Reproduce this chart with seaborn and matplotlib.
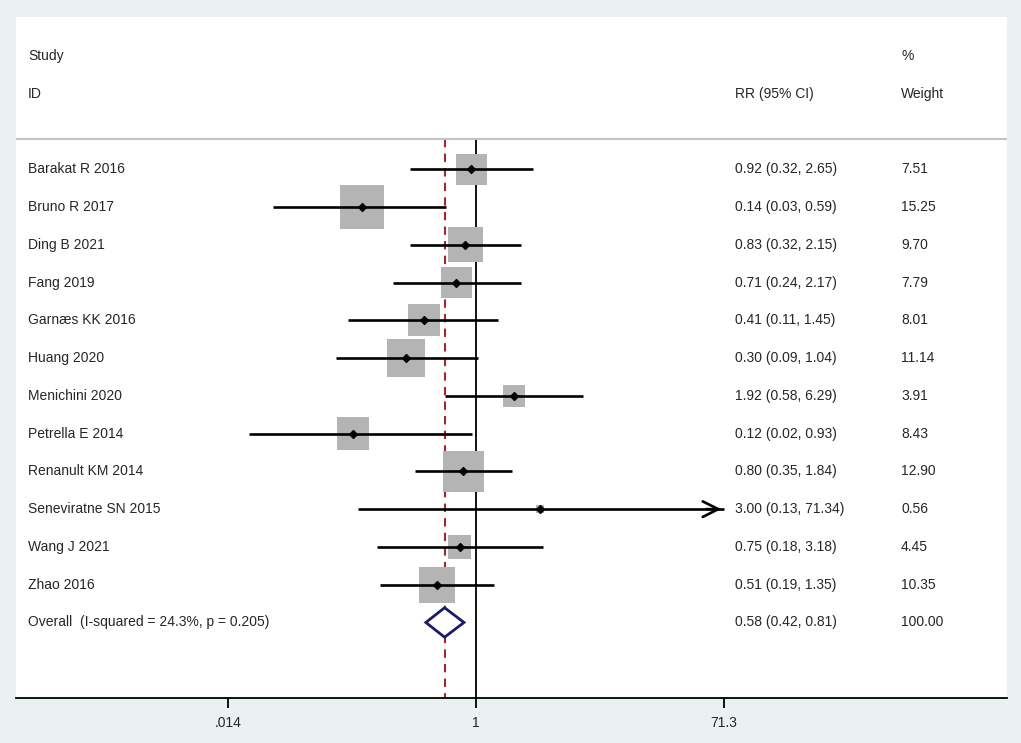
import numpy as np
import pandas as pd
import matplotlib
matplotlib.use("Agg")
import matplotlib.pyplot as plt
import matplotlib.transforms as mtransforms
from matplotlib.patches import Polygon
import seaborn as sns

studies = ["Barakat R 2016", "Bruno R 2017", "Ding B 2021", "Fang 2019",
           "Garnæs KK 2016", "Huang 2020", "Menichini 2020", "Petrella E 2014",
           "Renanult KM 2014", "Seneviratne SN 2015", "Wang J 2021", "Zhao 2016"]
rr = [0.92, 0.14, 0.83, 0.71, 0.41, 0.30, 1.92, 0.12, 0.80, 3.00, 0.75, 0.51]
lo = [0.32, 0.03, 0.32, 0.24, 0.11, 0.09, 0.58, 0.02, 0.35, 0.13, 0.18, 0.19]
hi = [2.65, 0.59, 2.15, 2.17, 1.45, 1.04, 6.29, 0.93, 1.84, 71.34, 3.18, 1.35]
weight = [7.51, 15.25, 9.70, 7.79, 8.01, 11.14, 3.91, 8.43, 12.90, 0.56, 4.45, 10.35]

overall_label = "Overall  (I-squared = 24.3%, p = 0.205)"
overall_rr, overall_lo, overall_hi, overall_w = 0.58, 0.42, 0.81, 100.00

tick_vals = [0.014, 1, 71.3]
tick_labels = [".014", "1", "71.3"]

df = pd.DataFrame({"study": studies, "rr": rr, "lo": lo, "hi": hi, "weight": weight})
df["row"] = np.arange(len(df))
overall_row = len(df)

sns.set_style("white")
plt.rcParams["font.family"] = ["Liberation Sans", "DejaVu Sans"]

fig = plt.figure(figsize=(10.21, 7.43), dpi=100)
fig.patch.set_facecolor("#e9f1f3")
ax = fig.add_axes([16 / 1021, 45 / 743, 991 / 1021, 681 / 743])
ax.set_facecolor("white")
ax.set_xscale("log")
ax.set_xlim(np.exp(-7.925), np.exp(9.14))
ax.set_ylim(14.0, -4.03)

# reference lines
ax.vlines(1, -0.8, 14.0, color="black", lw=1.3, zorder=1)
ax.vlines(overall_rr, -0.8, 14.0, color="#a3262e", lw=1.5, linestyles=(0, (4, 3)), zorder=1)
ax.axhline(-0.8, color="#c4c4c4", lw=1.5)

# weight boxes (area proportional to weight)
k = 66
sns.scatterplot(data=df, x="rr", y="row", size="weight",
                sizes=(k * df["weight"].min(), k * df["weight"].max()),
                marker="s", color="#b4b4b4", edgecolor="none", legend=False,
                ax=ax, zorder=2)

# confidence intervals
xmax_plot = tick_vals[-1]
for _, r in df.iterrows():
    if r["hi"] > xmax_plot:
        ax.hlines(r["row"], r["lo"], xmax_plot, color="black", lw=1.9, zorder=3)
        ax.annotate("", xy=(xmax_plot, r["row"]), xytext=(xmax_plot * 0.7, r["row"]),
                    arrowprops=dict(arrowstyle="->", color="black", lw=1.9,
                                    mutation_scale=28), zorder=3)
    else:
        ax.hlines(r["row"], r["lo"], r["hi"], color="black", lw=1.9, zorder=3)
ax.scatter(df["rr"], df["row"], marker="D", s=16, color="black", zorder=4)

# overall diamond
diamond = Polygon([(overall_lo, overall_row), (overall_rr, overall_row - 0.39),
                   (overall_hi, overall_row), (overall_rr, overall_row + 0.39)],
                  closed=True, facecolor="white", edgecolor="#1c1a6b", lw=2, zorder=5)
ax.add_patch(diamond)

# text columns
trans = mtransforms.blended_transform_factory(ax.transAxes, ax.transData)
fs = 10
x_study, x_rr, x_w = 12 / 991, 719 / 991, 885 / 991
ax.text(x_study, -3, "Study", transform=trans, fontsize=fs, va="center")
ax.text(x_study, -2, "ID", transform=trans, fontsize=fs, va="center")
ax.text(x_rr, -2, "RR (95% CI)", transform=trans, fontsize=fs, va="center")
ax.text(x_w, -3, "%", transform=trans, fontsize=fs, va="center")
ax.text(x_w, -2, "Weight", transform=trans, fontsize=fs, va="center")
for _, r in df.iterrows():
    ax.text(x_study, r["row"], r["study"], transform=trans, fontsize=fs, va="center")
    ax.text(x_rr, r["row"], f"{r['rr']:.2f} ({r['lo']:.2f}, {r['hi']:.2f})",
            transform=trans, fontsize=fs, va="center")
    ax.text(x_w, r["row"], f"{r['weight']:.2f}", transform=trans, fontsize=fs, va="center")
ax.text(x_study, overall_row, overall_label, transform=trans, fontsize=fs, va="center")
ax.text(x_rr, overall_row, f"{overall_rr:.2f} ({overall_lo:.2f}, {overall_hi:.2f})",
        transform=trans, fontsize=fs, va="center")
ax.text(x_w, overall_row, f"{overall_w:.2f}", transform=trans, fontsize=fs, va="center")

# axes styling
for side in ["top", "left", "right"]:
    ax.spines[side].set_visible(False)
ax.spines["bottom"].set_color("black")
ax.spines["bottom"].set_linewidth(1.3)
ax.set_xticks(tick_vals)
ax.set_xticklabels(tick_labels, fontsize=fs)
ax.xaxis.set_minor_locator(matplotlib.ticker.NullLocator())
ax.tick_params(axis="x", direction="out", length=7, width=1.3, color="black", bottom=True, pad=6)
ax.set_yticks([])
ax.set_xlabel("")
ax.set_ylabel("")

fig.savefig("out.png", dpi=100, facecolor=fig.get_facecolor())
